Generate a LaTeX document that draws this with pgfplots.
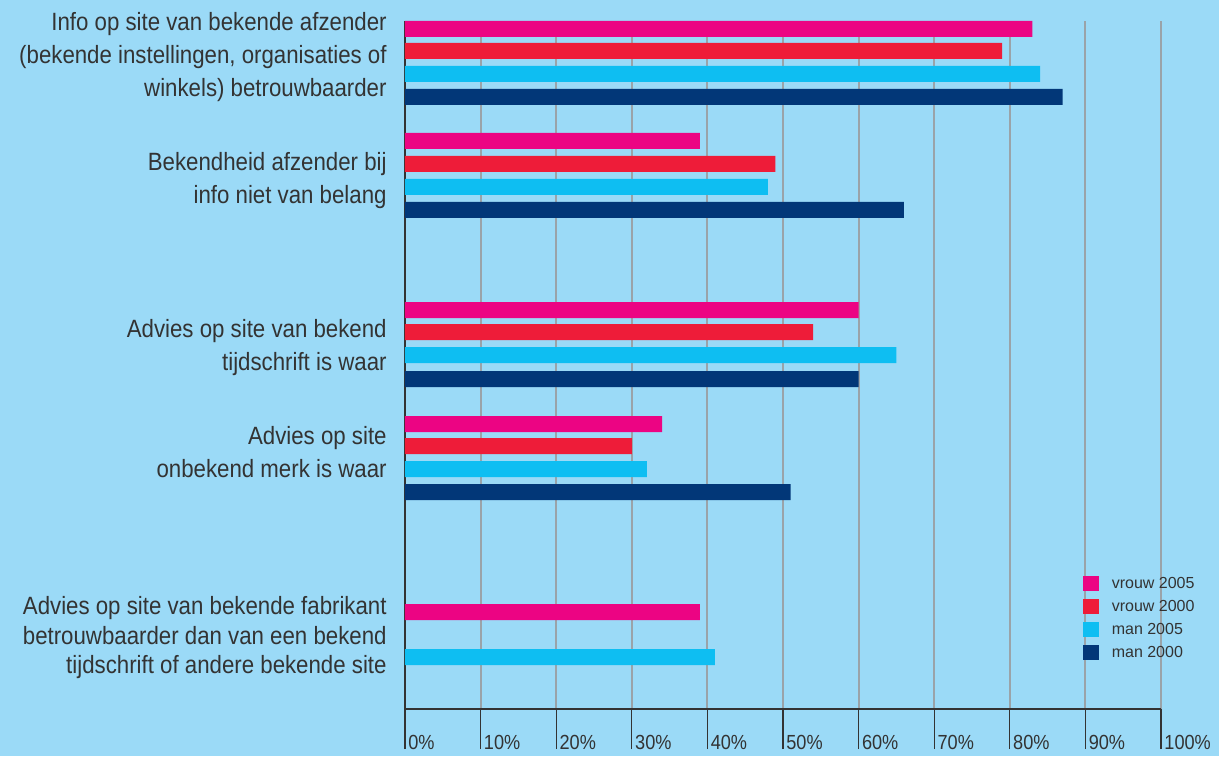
\documentclass[border=0pt]{standalone}
\usepackage{pgfplots}
\pgfplotsset{compat=1.18}
\usepackage{fontspec}
\setmainfont{Liberation Sans}
\newfontfamily\condfont[FakeStretch=0.89]{Liberation Sans}
\definecolor{bg}{HTML}{9BDAF7}
\definecolor{cpink}{HTML}{EC0483}
\definecolor{cred}{HTML}{EE1C39}
\definecolor{ccyan}{HTML}{0EBEF2}
\definecolor{cnavy}{HTML}{023778}
\definecolor{txt}{HTML}{333333}
\definecolor{gridc}{HTML}{9AA3A9}
\pgfplotsset{mylegend/.style={legend image code/.code={\fill[##1] (0pt,-3.75pt) rectangle (8pt,3.75pt);}}}
\begin{document}
\begin{tikzpicture}
\path[fill=bg, use as bounding box] (-202.5pt,-23.5pt) rectangle (407pt,354.5pt);
\begin{axis}[
  at={(0pt,0pt)}, anchor=south west,
  scale only axis, width=378pt, height=344pt,
  xmin=0, xmax=100, ymin=0, ymax=688,
  xbar, bar width=16,
  axis x line=bottom, axis y line=left,
  axis line style={draw=txt, line width=0.9pt, -},
  xtick={0,10,20,30,40,50,60,70,80,90,100},
  xticklabels={0\%,10\%,20\%,30\%,40\%,50\%,60\%,70\%,80\%,90\%,100\%},
  xmajorgrids, major grid style={draw=gridc, line width=1pt},
  tick align=outside, major tick length=20pt,
  xtick style={draw=txt, line width=0.6pt},
  xticklabel style={font=\condfont\fontsize{10.2}{12}\selectfont, text=txt, anchor=north west, inner sep=0pt, xshift=1.5pt, yshift=7pt},
  ytick={73,258.5,363,530.5,654},
  yticklabels={
    {Advies op site van bekende fabrikant\\[-1.75pt]betrouwbaarder dan van een bekend\\[-1.75pt]tijdschrift of andere bekende site},
    {Advies op site\\onbekend merk is waar},
    {Advies op site van bekend\\tijdschrift is waar},
    {Bekendheid afzender bij\\info niet van belang},
    {Info op site van bekende afzender\\(bekende instellingen, organisaties of\\winkels) betrouwbaarder}},
  ytick style={draw=none},
  yticklabel style={font=\condfont\fontsize{12.5}{16.5}\selectfont, text=txt, align=right, anchor=east, inner sep=0pt, xshift=11pt, yshift=-1pt},
  legend style={at={(axis cs:89.6,133)}, anchor=north west, draw=none, fill=none,
    font=\fontsize{8}{9.6}\selectfont, text=txt, inner sep=0pt, row sep=4pt, column sep=6.5pt,
    nodes={inner sep=0pt, text height=6pt, text depth=1.5pt}},
  legend cell align=left,
]
\addplot[fill=cpink, draw=none, bar shift=0pt, mylegend] coordinates {(83,680) (39,568) (60,399) (34,285) (39,97)};
\addlegendentry{vrouw 2005}
\addplot[fill=cred, draw=none, bar shift=0pt, mylegend] coordinates {(79,658) (49,545) (54,377) (30,263)};
\addlegendentry{vrouw 2000}
\addplot[fill=ccyan, draw=none, bar shift=0pt, mylegend] coordinates {(84,635) (48,522) (65,354) (32,240) (41,52)};
\addlegendentry{man 2005}
\addplot[fill=cnavy, draw=none, bar shift=0pt, mylegend] coordinates {(87,612) (66,499) (60,330) (51,217)};
\addlegendentry{man 2000}
\end{axis}
\end{tikzpicture}
\end{document}
